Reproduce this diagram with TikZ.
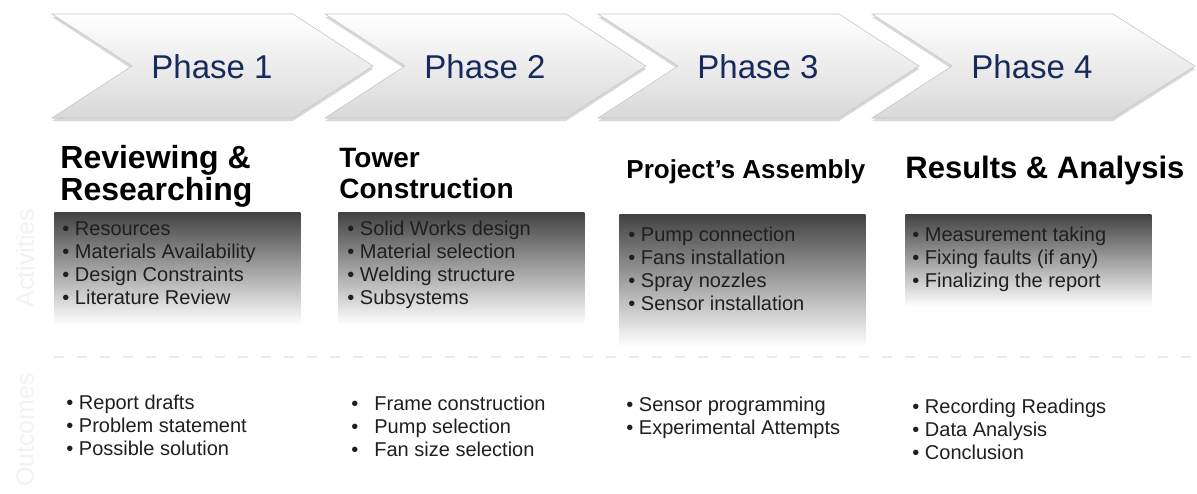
\documentclass[tikz,border=0pt]{standalone}
\usepackage{fontspec}
\setmainfont{Liberation Sans}
\usetikzlibrary{shadows}

\definecolor{phaseblue}{RGB}{22,42,92}

\begin{document}
\begin{tikzpicture}[x=0.5pt, y=-0.5pt,
chevron/.style={draw=gray!45, line width=0.3pt, top color=white,
  bottom color=gray!30, drop shadow={opacity=0.3, shadow xshift=0pt,
  shadow yshift=-1.5pt}},
%
phase/.style={text=phaseblue, inner sep=0pt,
  font=\fontsize{16.5}{19}\selectfont},
%
head/.style={anchor=north west, align=left, inner sep=0pt, text=black},
%
actbox/.style={anchor=north west, inner sep=0pt, top color=black!74,
  bottom color=white, minimum width=123pt},
%
items/.style={anchor=north west, align=left, inner sep=0pt,
  text=black!88, font=\fontsize{10}{11.5}\selectfont},
%
side/.style={rotate=90, text=gray!10, inner sep=0pt,
  font=\fontsize{12.5}{14}\selectfont}]

\useasboundingbox (0,0) rectangle (1197,493);

\begin{scope}
  %%%%%%%%%%%%%%%%%%%%%%%%%%%%%%
  \path [chevron] (52,14) -- ++(241,0) -- ++(80,52) -- ++(-80,52)
    -- ++(-241,0) -- ++(80,-52) -- cycle;
  \path [chevron] (325,14) -- ++(241,0) -- ++(80,52) -- ++(-80,52)
    -- ++(-241,0) -- ++(80,-52) -- cycle;
  \path [chevron] (598,14) -- ++(241,0) -- ++(80,52) -- ++(-80,52)
    -- ++(-241,0) -- ++(80,-52) -- cycle;
  \path [chevron] (872,14) -- ++(241,0) -- ++(82,52) -- ++(-82,52)
    -- ++(-241,0) -- ++(80,-52) -- cycle;
  %%%%%%%%%%%%%%%%%%%%%%%%%%%%%%
  \node [phase] (phase1) at (212,67) {Phase 1};
  \node [phase] (phase2) at (485,67) {Phase 2};
  \node [phase] (phase3) at (758,67) {Phase 3};
  \node [phase] (phase4) at (1032,67) {Phase 4};
\end{scope}

\begin{scope}
  %%%%%%%%%%%%%%%%%%%%%%%%%%%%%%
  \node [head, font=\bfseries\fontsize{16}{16}\selectfont] (review)
    at (60,145) {Reviewing \&\\Researching};
  \node [head, font=\bfseries\fontsize{14}{15.5}\selectfont] (tower)
    at (339,148) {Tower\\Construction};
  \node [head, font=\bfseries\fontsize{13}{14}\selectfont] (assembly)
    at (626,159) {Project's Assembly};
  \node [head, font=\bfseries\fontsize{15.5}{16}\selectfont] (results)
    at (905,156) {Results \& Analysis};
  %%%%%%%%%%%%%%%%%%%%%%%%%%%%%%
  \node [actbox, minimum height=56pt] (act1) at (54,212) {};
  \node [actbox, minimum height=56pt] (act2) at (338,212) {};
  \node [actbox, minimum height=66pt] (act3) at (619,214) {};
  \node [actbox, minimum height=46pt] (act4) at (905,214) {};
  %%%%%%%%%%%%%%%%%%%%%%%%%%%%%%
  \node [items] (actlist1) at (62,221) {• Resources\\• Materials
    Availability\\• Design Constraints\\• Literature Review};
  \node [items] (actlist2) at (347,221) {• Solid Works design\\• Material
    selection\\• Welding structure\\• Subsystems};
  \node [items] (actlist3) at (628,227) {• Pump connection\\• Fans
    installation\\• Spray nozzles\\• Sensor installation};
  \node [items] (actlist4) at (912,227) {• Measurement taking\\• Fixing
    faults (if any)\\• Finalizing the report};
\end{scope}

\begin{scope}
  %%%%%%%%%%%%%%%%%%%%%%%%%%%%%%
  \coordinate (sepL) at (54,357);
  \coordinate (sepR) at (1192,357);
  \draw [gray!16, line width=1pt, dash pattern=on 5pt off 6.5pt]
    (sepL) -- (sepR);
  %%%%%%%%%%%%%%%%%%%%%%%%%%%%%%
  \node [items] (outlist1) at (66,395) {• Report drafts\\• Problem
    statement\\• Possible solution};
  \node [items] (outlist2) at (351,396) {•\hspace{8pt}Frame
    construction\\•\hspace{8pt}Pump selection\\•\hspace{8pt}Fan size
    selection};
  \node [items] (outlist3) at (626,397) {• Sensor programming\\•
    Experimental Attempts};
  \node [items] (outlist4) at (912,399) {• Recording Readings\\• Data
    Analysis\\• Conclusion};
  %%%%%%%%%%%%%%%%%%%%%%%%%%%%%%
  \node [side] (activities) at (25,258) {Activities};
  \node [side] (outcomes) at (25,430) {Outcomes};
\end{scope}

\end{tikzpicture}
\end{document}
